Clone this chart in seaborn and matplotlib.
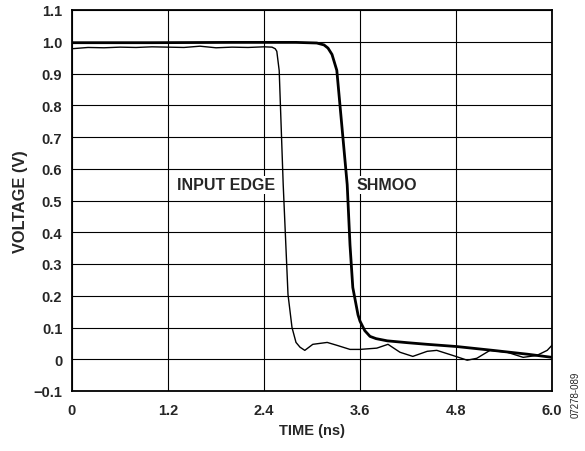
import matplotlib
matplotlib.use("Agg")
import matplotlib.pyplot as plt
import seaborn as sns
import pandas as pd

# Input edge (thin trace)
input_t = [0.0, 0.2, 0.4, 0.6, 0.8, 1.0, 1.2, 1.4, 1.6, 1.8, 2.0, 2.2, 2.4, 2.5, 2.54,
           2.56, 2.59, 2.64, 2.70, 2.75, 2.80, 2.85, 2.91, 3.01, 3.19, 3.31, 3.475, 3.6,
           3.81, 3.95, 4.1, 4.26, 4.44, 4.56, 4.76, 4.94, 5.06, 5.225, 5.44, 5.64, 5.81,
           5.94, 6.0]
input_v = [0.978, 0.982, 0.981, 0.983, 0.982, 0.984, 0.983, 0.982, 0.986, 0.981, 0.983,
           0.982, 0.984, 0.983, 0.978, 0.97, 0.909, 0.55, 0.204, 0.10, 0.053, 0.038, 0.028,
           0.047, 0.053, 0.044, 0.031, 0.031, 0.035, 0.047, 0.022, 0.009, 0.025, 0.028,
           0.012, -0.003, 0.003, 0.028, 0.022, 0.006, 0.012, 0.028, 0.044]

# Shmoo (bold trace)
shmoo_t = [0.0, 1.0, 2.0, 2.8, 3.06, 3.15, 3.2, 3.25, 3.31, 3.375, 3.44, 3.475, 3.51,
           3.575, 3.6, 3.66, 3.725, 3.8, 3.94, 4.2, 4.44, 4.81, 5.26, 5.69, 6.0]
shmoo_v = [0.997, 0.997, 0.998, 0.998, 0.996, 0.99, 0.98, 0.96, 0.91, 0.73, 0.55, 0.36,
           0.226, 0.14, 0.12, 0.09, 0.072, 0.065, 0.058, 0.052, 0.047, 0.040, 0.028,
           0.016, 0.006]

x_ticks = [0, 1.2, 2.4, 3.6, 4.8, 6.0]
x_labels = ["0", "1.2", "2.4", "3.6", "4.8", "6.0"]
y_ticks = [-0.1, 0, 0.1, 0.2, 0.3, 0.4, 0.5, 0.6, 0.7, 0.8, 0.9, 1.0, 1.1]
y_labels = ["\u22120.1", "0", "0.1", "0.2", "0.3", "0.4", "0.5", "0.6", "0.7", "0.8",
            "0.9", "1.0", "1.1"]

sns.set_style("white")
plt.rcParams["font.family"] = ["Liberation Sans", "DejaVu Sans"]
plt.rcParams["font.weight"] = "bold"

FS = 10.5

fig = plt.figure(figsize=(5.85, 4.52), dpi=100)
ax = fig.add_axes([72 / 585, (452 - 392) / 452, 480 / 585, 381 / 452])

df_in = pd.DataFrame({"t": input_t, "v": input_v})
df_sh = pd.DataFrame({"t": shmoo_t, "v": shmoo_v})

sns.lineplot(data=df_in, x="t", y="v", ax=ax, color="black", linewidth=1.0, sort=False, zorder=3)
sns.lineplot(data=df_sh, x="t", y="v", ax=ax, color="black", linewidth=2.0, sort=False, zorder=4)

ax.set_xlim(0, 6.0)
ax.set_ylim(-0.1, 1.1)
ax.set_xticks(x_ticks)
ax.set_xticklabels(x_labels, fontsize=FS, fontweight="bold")
ax.set_yticks(y_ticks)
ax.set_yticklabels(y_labels, fontsize=FS, fontweight="bold")
ax.tick_params(axis="x", length=0, pad=9)
ax.tick_params(axis="y", length=0, pad=7)
ax.grid(True, color="black", linewidth=0.8)
ax.set_axisbelow(True)
for s in ax.spines.values():
    s.set_color("black")
    s.set_linewidth(1.3)

ax.set_xlabel("TIME (ns)", fontsize=FS, fontweight="bold", labelpad=4)
ax.set_ylabel("VOLTAGE (V)", fontsize=11.8, fontweight="bold", labelpad=4)

ax.text(2.54, 0.55, "INPUT EDGE", ha="right", va="center", fontsize=11.5, fontweight="bold",
        bbox=dict(facecolor="white", edgecolor="none", pad=1.0), zorder=5)
ax.text(3.56, 0.55, "SHMOO", ha="left", va="center", fontsize=11.5, fontweight="bold",
        bbox=dict(facecolor="white", edgecolor="none", pad=1.0), zorder=5)

fig.text(576 / 585, 1 - 395 / 452, "07278-089", rotation=90, ha="center", va="center",
         fontsize=7, fontweight="normal")

fig.savefig("out.png", dpi=100)
